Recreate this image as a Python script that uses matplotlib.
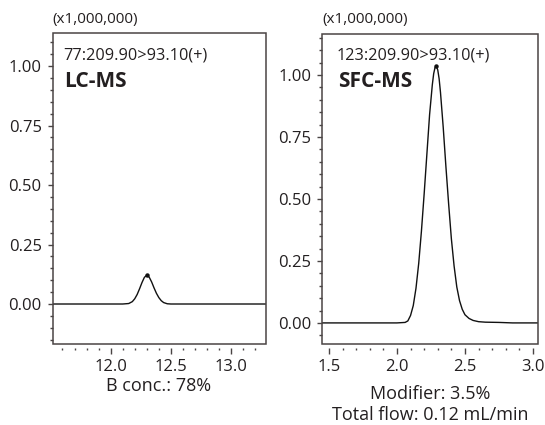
import matplotlib
matplotlib.use("Agg")
import matplotlib.pyplot as plt
from matplotlib.patches import Rectangle
from matplotlib.ticker import MultipleLocator, FormatStrFormatter

plt.rcParams['font.family'] = ['Open Sans', 'DejaVu Sans']

# ---- data ----
lc_time = [11.50, 12.00, 12.10, 12.15, 12.18, 12.20, 12.22, 12.24, 12.26, 12.28,
           12.30, 12.32, 12.34, 12.36, 12.38, 12.40, 12.42, 12.44, 12.47, 12.50, 13.30]
lc_signal = [0.0, 0.0, 0.0, 0.002, 0.010, 0.022, 0.040, 0.064, 0.090, 0.112,
             0.121, 0.113, 0.093, 0.068, 0.045, 0.027, 0.014, 0.006, 0.001, 0.0, 0.0]
lc_apex_time = [12.30]
lc_apex_signal = [0.121]

sfc_time = [1.44, 2.00, 2.06, 2.08, 2.10, 2.12, 2.14, 2.16, 2.18, 2.20, 2.22, 2.24,
            2.26, 2.27, 2.28, 2.29, 2.30, 2.31, 2.32, 2.34, 2.36, 2.38, 2.40, 2.42,
            2.44, 2.46, 2.48, 2.50, 2.53, 2.56, 2.60, 2.65, 2.75, 2.85, 3.05]
sfc_signal = [0.0, 0.0, 0.002, 0.008, 0.030, 0.070, 0.140, 0.240, 0.370, 0.520, 0.680, 0.840,
              0.960, 1.005, 1.030, 1.035, 1.020, 0.985, 0.930, 0.790, 0.630, 0.480, 0.340, 0.230,
              0.145, 0.090, 0.055, 0.033, 0.018, 0.010, 0.005, 0.003, 0.002, 0.0, 0.0]
sfc_apex_time = [2.29]
sfc_apex_signal = [1.035]

panels = [
    dict(time=lc_time, signal=lc_signal, apex_t=lc_apex_time, apex_s=lc_apex_signal,
         rect=[52.5, 33, 266, 343.5], xlim=(11.517, 13.29), ylim=(-0.166, 1.139),
         xmajor=0.5, ymajor=0.25, ymin_ticks=0.05, xminor=0.1,
         channel="77:209.90>93.10(+)", method="LC-MS", text_x=63),
    dict(time=sfc_time, signal=sfc_signal, apex_t=sfc_apex_time, apex_s=sfc_apex_signal,
         rect=[322, 34, 538, 343.5], xlim=(1.449, 3.037), ylim=(-0.083, 1.165),
         xmajor=0.5, ymajor=0.25, ymin_ticks=0.05, xminor=0.1,
         channel="123:209.90>93.10(+)", method="SFC-MS", text_x=337),
]

W, H = 545, 425
fig = plt.figure(figsize=(W / 100, H / 100), dpi=100)
frame_col = '#4a4444'
text_col = '#231f20'

for p in panels:
    x0, y0, x1, y1 = p['rect']
    ax = fig.add_axes([x0 / W, 1 - y1 / H, (x1 - x0) / W, (y1 - y0) / H])
    ax.plot(p['time'], p['signal'], color='#111111', lw=1.0)
    ax.plot(p['apex_t'], p['apex_s'], 'o', color='#111111', ms=2.2)
    ax.set_xlim(*p['xlim'])
    ax.set_ylim(*p['ylim'])
    for s in ['top', 'right']:
        ax.spines[s].set_visible(False)
    ax.spines['bottom'].set_position(('outward', 3))
    ax.spines['bottom'].set_visible(False)
    ax.spines['left'].set_visible(False)
    ax.add_patch(Rectangle((0, 0), 1, 1, transform=ax.transAxes, fill=False,
                           ec=frame_col, lw=1.1, clip_on=False, zorder=5))
    ax.xaxis.set_major_locator(MultipleLocator(p['xmajor']))
    ax.xaxis.set_minor_locator(MultipleLocator(p['xminor']))
    ax.yaxis.set_major_locator(MultipleLocator(p['ymajor']))
    ax.yaxis.set_minor_locator(MultipleLocator(p['ymin_ticks']))
    ax.xaxis.set_major_formatter(FormatStrFormatter('%.1f'))
    ax.yaxis.set_major_formatter(FormatStrFormatter('%.2f'))
    ax.tick_params(axis='x', which='major', direction='out', length=4.3, width=1.0,
                   color=frame_col, labelsize=12, labelcolor=text_col, pad=4)
    ax.tick_params(axis='x', which='minor', direction='out', length=1.5, width=1.0,
                   color=frame_col)
    ax.tick_params(axis='y', which='major', direction='out', length=3.8, width=1.0,
                   color=frame_col, labelsize=12, labelcolor=text_col, pad=4)
    ax.tick_params(axis='y', which='minor', direction='out', length=2.5, width=1.0,
                   color=frame_col)
    ax.text((p['text_x'] - x0) / (x1 - x0), (y1 - 59) / (y1 - y0), p['channel'],
            transform=ax.transAxes, fontsize=11.7, color=text_col, va='baseline', ha='left')
    ax.text((p['text_x'] + 1 - x0) / (x1 - x0), (y1 - 87) / (y1 - y0), p['method'],
            transform=ax.transAxes, fontsize=15, fontweight='bold', color=text_col,
            va='baseline', ha='left')
    fig.text(x0 / W, 1 - 23 / H, "(x1,000,000)", fontsize=11, color=text_col,
             va='baseline', ha='left')

fig.text(159 / W, 1 - 386 / H, "B conc.: 78%", fontsize=13, color=text_col,
         ha='center', va='center')
fig.text(430 / W, 1 - 394 / H, "Modifier: 3.5%", fontsize=13, color=text_col,
         ha='center', va='center')
fig.text(430 / W, 1 - 415 / H, "Total flow: 0.12 mL/min", fontsize=13, color=text_col,
         ha='center', va='center')

fig.savefig('out.png', dpi=100)
